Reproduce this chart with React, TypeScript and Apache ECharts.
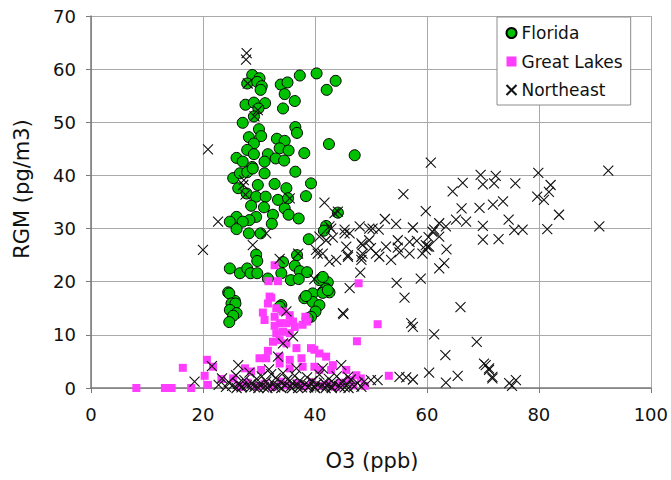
import React, { useEffect, useRef } from "react";
import * as echarts from "echarts";

// RGM vs O3 scatter for three regions

const xTicks = [0, 20, 40, 60, 80, 100];
const yTicks = [0, 10, 20, 30, 40, 50, 60, 70];

const seriesNames = ["Florida", "Great Lakes", "Northeast"];

// [O3 (ppb), RGM (pg/m3)]
const florida: number[][] = [
  [28.8, 58.9], [30.1, 58.3], [27.9, 57.3], [29.7, 57.6], [30.5, 56.8], [30.3, 56.1],
  [33.9, 57.1], [35.1, 57.5], [37.3, 58.8], [40.3, 59.2], [43.7, 57.8], [42.1, 56.1],
  [34.6, 55.3], [36.4, 54.0], [34.3, 52.6], [27.6, 53.3], [29.1, 53.7], [31.1, 53.6],
  [29.9, 52.6], [29.1, 51.1], [27.1, 49.9], [36.5, 49.1], [36.8, 48.0], [30.0, 48.7],
  [30.4, 47.4], [28.2, 47.2], [29.1, 46.0], [33.2, 46.9], [34.6, 46.5], [33.7, 45.1],
  [35.3, 44.7], [38.1, 44.2], [42.5, 45.9], [47.1, 43.8], [27.9, 44.8], [29.1, 44.0],
  [31.6, 44.0], [33.0, 43.2], [34.5, 42.8], [26.0, 43.3], [27.1, 42.6], [31.0, 42.6],
  [28.8, 41.6], [25.4, 39.5], [26.6, 40.4], [27.9, 40.6], [28.9, 41.3], [31.0, 40.4],
  [36.5, 40.7], [26.3, 37.6], [27.8, 36.6], [29.8, 38.2], [32.8, 38.4], [34.9, 37.6],
  [39.3, 38.5], [38.4, 36.1], [33.4, 35.4], [35.2, 35.7], [29.5, 36.0], [31.2, 36.0],
  [28.6, 34.3], [30.9, 34.0], [34.6, 33.8], [32.5, 32.6], [35.3, 32.6], [37.1, 31.9],
  [29.5, 32.2], [28.3, 31.6], [26.0, 32.2], [24.8, 31.3], [27.1, 31.3], [26.0, 29.9],
  [32.3, 30.9], [28.2, 29.1], [30.3, 29.1], [44.1, 33.0], [42.0, 30.5], [41.6, 29.6],
  [38.9, 28.0], [29.5, 25.1], [29.7, 23.9], [36.8, 25.0], [34.3, 23.7], [24.8, 22.5],
  [26.6, 21.6], [27.9, 22.5], [28.5, 21.6], [29.7, 21.6], [36.4, 23.0], [37.3, 22.0],
  [38.6, 21.8], [34.0, 21.6], [35.7, 20.3], [37.1, 20.5], [31.6, 20.6], [41.1, 20.6],
  [42.3, 19.9], [41.4, 18.1], [42.6, 18.0], [39.6, 17.8], [24.5, 18.0], [25.7, 16.4],
  [38.1, 16.9], [39.6, 16.2], [42.0, 18.7], [24.7, 17.8], [25.1, 15.9], [25.8, 15.9],
  [24.8, 14.7], [26.0, 14.1], [25.4, 13.6], [24.7, 12.4], [34.0, 15.6], [38.4, 17.3],
  [41.4, 17.9], [40.8, 15.6], [40.1, 14.4], [39.3, 13.4], [38.7, 13.1], [42.3, 18.4],
  [40.8, 20.3], [41.4, 20.9], [33.7, 15.3],
];

const greatLakes: number[][] = [
  [31.9, 17.2], [31.6, 15.9], [33.1, 15.0], [30.7, 14.2], [31.0, 12.8], [32.8, 13.4],
  [34.3, 14.4], [35.5, 13.7], [33.7, 12.2], [32.8, 11.7], [34.9, 12.2], [36.1, 12.5],
  [36.4, 11.5], [38.3, 13.4], [37.8, 11.9], [38.6, 12.5], [34.3, 10.6], [35.5, 10.3],
  [33.1, 10.3], [33.7, 9.0], [32.5, 8.7], [34.9, 8.4], [36.7, 7.5], [39.3, 7.5],
  [39.9, 7.2], [40.8, 6.5], [47.5, 8.8], [31.6, 7.0], [31.3, 5.6], [30.1, 5.6],
  [33.7, 5.9], [35.5, 5.3], [37.6, 5.6], [37.8, 4.0], [35.5, 3.7], [33.7, 4.6],
  [30.4, 3.4], [28.6, 3.1], [27.5, 3.7], [39.9, 4.0], [40.8, 3.4], [42.9, 3.4],
  [43.2, 4.3], [42.0, 5.9], [20.7, 5.3], [21.8, 4.0], [20.3, 2.3], [16.4, 3.8],
  [17.9, 0.0], [23.3, 1.7], [25.4, 1.8], [26.9, 0.2], [47.4, 2.4], [48.2, 1.8],
  [45.6, 3.4], [46.2, 1.5], [44.4, 0.9], [8.1, 0.0], [13.2, 0.0], [14.4, 0.0],
  [20.9, 0.6], [31.7, 20.1], [33.4, 20.1], [32.8, 23.1], [47.8, 19.7], [51.2, 12.0],
  [53.2, 2.3], [32.2, 17.0], [26.5, 0.4], [28.0, 1.0], [29.6, 0.3], [31.0, 0.8],
  [32.4, 0.2], [33.9, 1.2], [35.2, 0.5], [36.8, 0.9], [38.1, 0.3], [39.5, 1.1],
  [40.9, 0.4], [42.4, 0.7], [43.8, 0.2], [45.1, 1.0], [46.8, 0.5], [48.9, 0.4],
];

const northeast: number[][] = [
  [27.8, 63.0], [27.7, 61.8], [28.0, 57.3], [29.8, 52.3], [29.2, 51.1], [27.2, 38.2],
  [27.3, 39.1], [27.6, 36.4], [20.9, 44.9], [22.7, 31.3], [20.0, 26.0], [28.9, 26.9],
  [31.3, 29.1], [33.7, 24.3], [37.0, 25.3], [35.5, 35.7], [41.7, 34.9], [43.5, 32.9],
  [42.6, 30.4], [39.9, 20.5], [46.2, 18.8], [34.9, 14.4], [36.1, 9.7], [34.3, 8.4],
  [45.0, 14.1], [26.3, 4.3], [33.4, 5.9], [36.7, 3.7], [44.7, 4.3], [31.8, 3.5],
  [41.4, 3.7], [45.9, 2.1], [48.8, 1.2], [18.5, 1.2], [21.6, 4.1],
  [60.7, 42.4], [55.8, 36.5], [69.6, 40.1], [72.3, 39.9], [70.0, 38.3], [72.0, 38.5],
  [66.4, 38.6], [64.6, 37.0], [75.8, 38.5], [79.9, 40.5], [82.1, 38.2], [81.8, 36.9],
  [79.7, 36.0], [80.9, 35.4], [83.6, 32.6], [81.5, 29.9], [92.4, 40.9], [90.8, 30.4],
  [59.8, 33.3], [66.2, 33.8], [69.4, 33.9], [71.8, 34.5], [73.6, 35.1], [65.2, 31.7],
  [67.0, 31.3], [74.6, 31.7], [70.0, 30.5], [75.6, 29.7], [77.1, 29.8], [70.0, 27.9],
  [72.8, 28.0], [62.2, 31.0], [63.4, 30.4], [61.3, 29.8], [60.3, 28.4], [62.2, 28.5],
  [59.8, 26.9], [60.4, 26.6], [61.0, 29.4], [63.5, 26.1], [62.2, 22.5], [63.1, 23.5],
  [58.9, 20.6], [56.0, 17.0], [54.6, 19.8], [48.1, 21.7], [59.8, 26.0], [58.2, 27.7],
  [57.5, 30.2], [54.5, 30.9], [52.5, 31.8], [51.4, 29.8], [49.7, 30.0], [45.3, 29.8],
  [46.2, 29.1], [54.8, 27.8], [56.9, 27.5], [52.7, 26.6], [49.7, 27.8], [48.5, 26.9],
  [45.6, 26.6], [45.9, 24.7], [48.3, 24.7], [50.9, 25.3], [51.5, 24.7], [53.6, 24.1],
  [55.1, 25.5], [56.9, 25.3], [54.8, 26.4], [59.2, 25.3], [60.1, 26.6], [50.0, 26.3],
  [44.1, 33.2], [48.0, 30.4], [42.9, 30.0], [40.8, 28.5], [43.2, 28.3], [40.5, 25.3],
  [42.6, 23.8], [42.0, 27.8], [40.2, 26.0], [41.4, 25.3], [43.8, 24.1], [45.3, 29.1],
  [45.9, 25.0], [48.3, 27.2], [48.5, 25.3], [50.3, 30.0], [48.3, 24.1],
  [45.1, 13.9], [57.2, 12.2], [57.5, 11.5], [61.3, 10.1], [68.9, 8.7], [63.3, 6.2],
  [70.5, 4.3], [71.1, 3.4], [71.7, 1.8], [60.4, 2.9], [65.5, 2.3], [63.4, 1.0],
  [55.1, 2.1], [56.3, 2.0], [57.5, 1.6], [50.0, 1.5], [51.2, 1.5], [66.0, 15.2],
  [70.2, 4.6], [71.1, 3.7], [71.7, 2.1], [74.7, 0.9], [75.9, 1.5], [75.2, 0.4],
  [22.8, 0.6], [23.4, 1.8], [24.1, 0.2], [24.6, 1.1], [25.2, 0.4], [25.9, 2.4],
  [26.3, 0.8], [26.9, 0.1], [27.4, 1.5], [27.8, 0.5], [28.3, 2.9], [28.7, 0.9],
  [29.2, 0.2], [29.6, 1.7], [30.1, 0.6], [30.5, 2.2], [30.9, 0.1], [31.3, 1.2],
  [31.8, 0.4], [32.2, 2.6], [32.6, 0.8], [33.0, 1.9], [33.5, 0.3], [33.9, 1.1],
  [34.3, 2.8], [34.7, 0.5], [35.1, 1.6], [35.6, 0.2], [36.0, 0.9], [36.4, 2.3],
  [36.9, 0.6], [37.3, 1.4], [37.7, 0.1], [38.2, 0.7], [38.6, 2.0], [39.0, 0.4],
  [39.5, 1.3], [39.9, 0.2], [40.3, 0.8], [40.8, 2.5], [41.2, 0.3], [41.6, 1.0],
  [42.1, 0.5], [42.5, 1.7], [43.0, 0.2], [43.4, 0.9], [43.9, 2.2], [44.3, 0.4],
  [44.8, 1.2], [45.3, 0.1], [45.8, 0.7], [46.4, 1.6], [47.0, 0.3], [47.6, 0.9],
  [48.3, 0.2], [27.0, 0.3], [29.9, 0.0], [32.9, 0.1], [35.9, 0.0], [38.8, 0.1],
  [41.9, 0.0], [44.6, 0.1], [31.5, 0.0], [34.0, 0.0], [37.0, 0.0], [40.0, 0.0],
  [43.0, 0.0], [26.0, 0.0], [28.5, 0.1], [46.0, 0.0],
];

const FONT = '"DejaVu Sans", Verdana, sans-serif';
const CROSS = "path://M0,0L10,10M10,0L0,10";

const axisCommon = {
  type: "value" as const,
  axisLine: { show: true, lineStyle: { color: "#7a7a7a", width: 1.5 } },
  axisTick: { show: true, inside: false, length: 5, lineStyle: { color: "#7a7a7a", width: 1 } },
  splitLine: { show: true, lineStyle: { color: "#a9a9a9", width: 1 } },
};

export default function App() {
  const ref = useRef<HTMLDivElement>(null);

  useEffect(() => {
    if (!ref.current) return;
    const chart = echarts.init(ref.current, undefined, { renderer: "svg" });
    chart.setOption({
      animation: false,
      backgroundColor: "#ffffff",
      textStyle: { fontFamily: FONT },
      grid: { left: 91, top: 16, width: 561, height: 372, containLabel: false },
      xAxis: {
        ...axisCommon,
        min: xTicks[0],
        max: xTicks[xTicks.length - 1],
        interval: xTicks[1] - xTicks[0],
        axisLabel: { fontSize: 18, color: "#111", margin: 17, fontFamily: FONT },
      },
      yAxis: {
        ...axisCommon,
        min: yTicks[0],
        max: yTicks[yTicks.length - 1],
        interval: yTicks[1] - yTicks[0],
        axisLabel: { fontSize: 18, color: "#111", margin: 15, fontFamily: FONT },
      },
      legend: {
        orient: "vertical",
        left: 497,
        top: 17,
        backgroundColor: "#ffffff",
        borderColor: "#8c8c8c",
        borderWidth: 1,
        padding: [7, 8, 6, 7],
        itemGap: 10.5,
        itemWidth: 10,
        itemHeight: 10,
        textStyle: { fontSize: 17, color: "#111", lineHeight: 18, fontFamily: FONT },
        data: seriesNames,
      },
      graphic: [
        {
          type: "text",
          x: 372,
          y: 461,
          style: {
            text: "O3 (ppb)",
            font: `21px ${FONT}`,
            fill: "#111",
            align: "center",
            verticalAlign: "middle",
          },
        },
        {
          type: "text",
          x: 22,
          y: 189,
          rotation: Math.PI / 2,
          style: {
            text: "RGM (pg/m3)",
            font: `21px ${FONT}`,
            fill: "#111",
            align: "center",
            verticalAlign: "middle",
          },
        },
      ],
      series: [
        {
          name: seriesNames[0],
          type: "scatter",
          data: florida,
          symbol: "circle",
          symbolSize: 11,
          itemStyle: { color: "#00c200", borderColor: "#000", borderWidth: 1, opacity: 1 },
        },
        {
          name: seriesNames[1],
          type: "scatter",
          data: greatLakes,
          symbol: "rect",
          symbolSize: 8,
          itemStyle: { color: "#ff3cff", opacity: 1 },
        },
        {
          name: seriesNames[2],
          type: "scatter",
          data: northeast,
          symbol: CROSS,
          symbolSize: 10,
          itemStyle: { color: "none", borderColor: "#111", borderWidth: 1.1, opacity: 1 },
        },
      ],
    });
    return () => chart.dispose();
  }, []);

  return (
    <div
      ref={ref}
      style={{ position: "fixed", left: 0, top: 0, width: 671, height: 480 }}
    />
  );
}
